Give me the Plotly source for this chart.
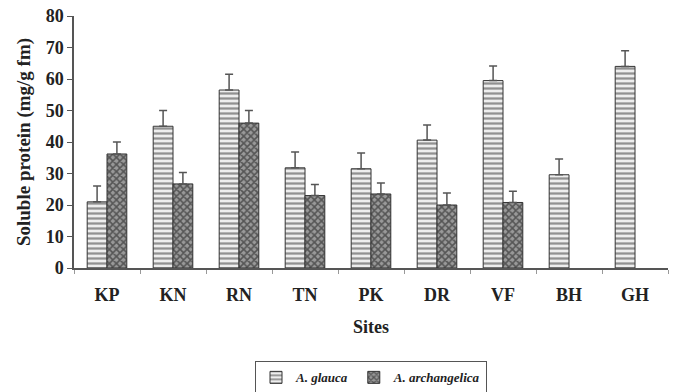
import plotly.graph_objects as go

sites = ["KP", "KN", "RN", "TN", "PK", "DR", "VF", "BH", "GH"]
glauca = [21, 45, 56.5, 31.8, 31.5, 40.6, 59.5, 29.6, 64]
glauca_err = [5, 5, 5, 5, 5, 4.8, 4.6, 5, 5]
arch = [36.2, 26.7, 46, 23, 23.5, 20, 20.8, None, None]
arch_err = [3.8, 3.6, 4, 3.5, 3.5, 3.8, 3.6, None, None]

font = "Liberation Serif, Times New Roman, serif"

fig = go.Figure()
fig.add_trace(go.Bar(
    x=sites, y=glauca, name="<b><i>A. glauca</i></b>",
    marker=dict(color="white", line=dict(color="#333", width=1),
                pattern=dict(shape="-", fgcolor="#333", bgcolor="#eee", size=5, solidity=0.45)),
    error_y=dict(type="data", array=glauca_err, arrayminus=[0]*9, symmetric=False,
                 color="#555", thickness=1.5, width=4),
))
fig.add_trace(go.Bar(
    x=sites, y=arch, name="<b><i>A. archangelica</i></b>",
    marker=dict(color="white", line=dict(color="#333", width=1),
                pattern=dict(shape="x", fgcolor="#111", bgcolor="#999", size=5, solidity=0.55)),
    error_y=dict(type="data", array=arch_err, arrayminus=[0]*9, symmetric=False,
                 color="#555", thickness=1.5, width=4),
))

fig.update_layout(
    width=673, height=392,
    margin=dict(l=74, r=5, t=16, b=124, autoexpand=False),
    plot_bgcolor="white", paper_bgcolor="white",
    barmode="group", bargap=0.4, bargroupgap=0,
    font=dict(family=font, color="#222", size=15),
    showlegend=True,
    legend=dict(orientation="h", x=0.5, xanchor="center", yref="container", y=0.078, yanchor="top",
                bordercolor="#555", borderwidth=1, font=dict(size=13, family=font, color="#222"),
                itemwidth=30, tracegroupgap=0),
)
fig.update_yaxes(range=[0, 80], showline=True, linecolor="#555", linewidth=1.5, automargin=False,
                 ticks="outside", ticklen=5, tickcolor="#555", showgrid=False, zeroline=False,
                 tickfont=dict(size=18, family=font, color="#222"),
                 tickvals=list(range(0, 81, 10)), ticktext=[f"<b>{v}</b>" for v in range(0, 81, 10)],
                 title=dict(text="<b>Soluble protein (mg/g fm)</b>", font=dict(size=19, family=font, color="#222"), standoff=10))
fig.update_xaxes(showline=True, linecolor="#555", linewidth=1.5, ticks="outside", ticklen=4, automargin=False,
                 tickcolor="#999", tickson="boundaries", showgrid=False,
                 tickfont=dict(size=18, family=font, color="#222"), ticklabelstandoff=10,
                 tickvals=sites, ticktext=[f"<b>{s}</b>" for s in sites],
                 title=dict(text="<b>Sites</b>", font=dict(size=18, family=font, color="#222"), standoff=16))

fig.write_html("out.html")
